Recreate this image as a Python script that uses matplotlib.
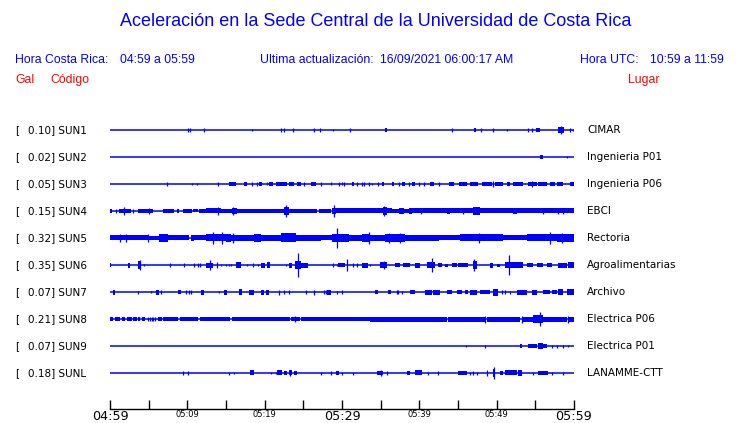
import matplotlib.pyplot as plt

# estaciones (de arriba hacia abajo)
codes = ["SUN1", "SUN2", "SUN3", "SUN4", "SUN5", "SUN6", "SUN7", "SUN8", "SUN9", "SUNL"]
peaks = [0.10, 0.02, 0.05, 0.15, 0.32, 0.35, 0.07, 0.21, 0.07, 0.18]
places = ["CIMAR", "Ingenieria P01", "Ingenieria P06", "EBCI", "Rectoria",
          "Agroalimentarias", "Archivo", "Electrica P06", "Electrica P01", "LANAMME-CTT"]

tick_minutes = [0, 5, 10, 15, 20, 25, 30, 35, 40, 45, 50, 55, 60]
tick_labels = ["04:59", "", "05:09", "", "05:19", "", "05:29", "", "05:39", "", "05:49", "", "05:59"]

# envolvente de cada traza: rafagas (min inicio, min fin, nivel) y picos (min, nivel)
sun1_bursts = [(35.6, 35.8, 2), (47.1, 47.3, 2), (55.08, 55.6, 2), (57.93, 58.7, 3)]
sun1_spikes = [(10.09, 2), (10.34, 2), (12.15, 2), (18.36, 1), (22.11, 2), (22.5, 2), (23.66, 2),
               (26.38, 2), (27.15, 2), (28.83, 1), (31.03, 2), (44.22, 2), (47.97, 2), (49.52, 2),
               (51.33, 1), (54.05, 2), (54.56, 2), (58.31, 4), (59.48, 2), (59.87, 1)]

sun2_bursts = [(55.6, 55.99, 2)]
sun2_spikes = [(59.09, 1)]

sun3_bursts = [(15.39, 16.29, 2), (17.33, 17.71, 2), (19.27, 19.65, 2), (20.56, 21.08, 2),
               (21.46, 22.89, 2), (23.14, 23.79, 2), (24.18, 24.7, 2), (25.99, 26.64, 2),
               (31.29, 31.55, 2), (35.17, 35.43, 2), (36.46, 36.72, 2), (37.76, 38.14, 2),
               (39.05, 39.44, 2), (41.38, 41.89, 2), (43.83, 44.48, 2), (45.13, 45.38, 2),
               (45.26, 46.16, 2), (46.55, 47.58, 2), (48.1, 49.39, 2), (49.78, 50.17, 2),
               (50.17, 50.82, 2), (51.33, 51.72, 2), (52.11, 53.4, 2), (54.05, 55.21, 2),
               (55.34, 56.5, 2), (56.89, 57.54, 2), (57.8, 58.57, 2), (59.48, 60.0, 2)]
sun3_spikes = [(7.37, 2), (10.6, 1), (11.25, 1), (13.96, 2), (18.36, 2), (19.01, 2), (20.3, 1.5),
               (25.08, 2), (27.28, 2), (28.58, 1.5), (29.61, 2), (30.0, 1.5), (30.26, 2), (31.94, 2),
               (32.58, 2), (32.84, 2), (33.49, 2), (33.88, 1), (34.65, 2), (37.37, 2), (38.66, 2),
               (39.95, 2), (40.6, 2), (42.54, 2), (49.52, 3), (54.6, 3)]

sun4_bursts = [(0.0, 0.26, 2), (1.16, 2.72, 2), (3.62, 5.56, 2), (6.85, 8.28, 2), (8.66, 8.92, 2),
               (9.44, 10.6, 2), (10.73, 11.38, 1.5), (11.51, 12.41, 2), (12.41, 14.35, 2.5),
               (14.35, 15.0, 2), (15.0, 15.77, 2), (15.77, 16.42, 3), (16.42, 22.5, 2),
               (22.5, 23.14, 4), (23.14, 24.83, 2), (24.83, 26.77, 2), (27.02, 28.58, 2),
               (28.7, 29.22, 3), (29.22, 34.26, 2.5), (34.26, 36.46, 2.5), (35.3, 35.82, 4),
               (36.46, 37.37, 2), (37.37, 38.01, 3), (38.01, 38.66, 2), (38.66, 39.05, 3),
               (39.05, 60.0, 2.5), (43.57, 43.96, 3), (46.94, 47.84, 4), (52.11, 52.63, 3)]
sun4_spikes = [(0.78, 2), (1.81, 4), (2.97, 2), (5.04, 3), (13.96, 4), (15.9, 4), (22.76, 6),
               (28.96, 6), (35.43, 5), (40.2, 3), (45.6, 3), (55.99, 3), (57.93, 3), (58.57, 3)]

sun5_bursts = [(0.0, 5.04, 2.5), (5.04, 6.34, 2), (6.34, 7.5, 4), (7.5, 10.21, 2.5), (10.47, 10.86, 3),
               (10.86, 12.41, 2.5), (12.41, 15.0, 3.5), (15.0, 15.65, 4), (15.65, 16.42, 3),
               (16.42, 18.62, 3), (18.62, 19.52, 4), (19.52, 22.11, 3), (22.11, 24.05, 4.5),
               (24.05, 25.47, 3), (25.47, 27.28, 3), (27.28, 28.7, 2.5), (28.7, 30.26, 4),
               (30.26, 30.9, 4), (30.9, 32.58, 3), (32.58, 33.62, 4), (33.62, 35.56, 3),
               (35.56, 38.14, 4), (38.14, 42.54, 3), (42.54, 45.26, 2.5), (45.26, 50.82, 3.5),
               (50.82, 53.92, 2.5), (53.92, 57.8, 3.5), (57.8, 60.0, 4)]
sun5_spikes = [(1.29, 4), (2.07, 4), (4.91, 4), (13.32, 6), (14.48, 6), (15.9, 5), (29.35, 10),
               (33.49, 6), (36.07, 5), (37.5, 5), (47.71, 5), (56.89, 6), (58.44, 5)]

sun6_bursts = [(0.0, 0.13, 2), (2.33, 2.59, 2.5), (3.62, 4.01, 4), (12.41, 13.32, 2.5),
               (16.29, 16.94, 3), (19.52, 20.04, 2.5), (20.3, 20.69, 3), (23.14, 23.53, 2.5),
               (23.92, 24.7, 4), (24.7, 25.6, 2.5), (29.48, 30.39, 2), (32.58, 33.36, 2.5),
               (34.91, 35.82, 3), (36.85, 37.5, 2), (37.89, 38.79, 2), (39.44, 40.09, 2.5),
               (40.99, 42.02, 3), (42.41, 42.93, 2), (43.32, 43.7, 1.5), (44.22, 44.87, 2),
               (45.0, 46.29, 2), (46.94, 47.45, 4), (49.14, 49.52, 2.5), (50.04, 50.43, 1.5),
               (51.07, 53.4, 3), (53.92, 54.69, 2), (55.21, 55.99, 2), (56.5, 57.15, 2),
               (57.93, 59.09, 2.5), (59.22, 60.0, 3)]
sun6_spikes = [(3.88, 5), (4.4, 1.5), (7.76, 2), (9.57, 2), (10.86, 2), (11.38, 2), (11.64, 2),
               (12.93, 5), (13.84, 3), (14.35, 1.5), (15.0, 1.5), (15.39, 1.5), (15.65, 1.5),
               (17.71, 1.5), (18.49, 2), (19.14, 1.5), (22.76, 1.5), (24.31, 12), (28.83, 2),
               (29.35, 1.5), (30.64, 6), (31.42, 2), (31.94, 2), (33.62, 1.5), (35.43, 4),
               (41.63, 7), (47.07, 6), (51.59, 10)]

sun7_bursts = [(0.39, 0.65, 2.5), (5.95, 6.34, 2.5), (8.79, 9.18, 2), (11.77, 12.15, 2.5),
               (14.74, 15.13, 2.5), (16.68, 17.07, 3), (17.97, 18.62, 2.5), (19.52, 19.91, 2.5),
               (20.17, 20.56, 2.5), (28.06, 28.58, 2.5), (34.26, 34.65, 2), (35.95, 36.33, 2),
               (38.79, 39.44, 2), (40.73, 41.63, 2.5), (41.76, 42.67, 2.5), (43.57, 44.22, 2),
               (44.87, 45.51, 2), (45.9, 46.29, 2), (46.55, 47.45, 2.5), (47.84, 49.14, 2),
               (49.52, 50.17, 3.5), (52.63, 53.92, 2.5), (54.56, 55.21, 2.5), (55.99, 56.9, 2),
               (57.15, 57.8, 2), (57.93, 58.57, 3), (59.09, 60.0, 3)]
sun7_spikes = [(3.62, 1.5), (5.3, 1), (6.59, 2), (9.83, 2), (10.21, 2), (10.47, 2), (14.09, 1),
               (21.85, 2.5), (22.5, 2), (23.14, 2), (25.34, 2), (26.38, 2.5), (27.67, 2),
               (27.93, 2), (29.35, 1.5), (30.0, 2), (37.11, 2), (37.24, 2), (37.76, 1.5),
               (50.69, 2), (51.07, 2), (51.72, 1.5)]

sun8_bursts = [(0.0, 0.39, 2), (0.65, 1.29, 2), (1.55, 1.94, 2), (2.2, 2.84, 2), (2.97, 3.49, 2),
               (3.62, 3.88, 2), (4.14, 4.53, 2), (6.21, 6.72, 2), (6.85, 8.79, 2), (9.05, 11.38, 2),
               (11.64, 15.52, 2), (15.77, 23.28, 2), (23.4, 24.57, 2), (24.7, 33.62, 2),
               (33.62, 43.57, 2.5), (43.7, 48.49, 2.5), (48.75, 53.02, 2.5), (53.4, 54.69, 2.5),
               (54.69, 55.99, 4), (55.99, 59.09, 2.5), (59.22, 60.0, 2.5)]
sun8_spikes = [(4.85, 2), (5.17, 2), (5.43, 2), (5.56, 2), (5.82, 2), (23.92, 3), (48.49, 3.5),
               (53.27, 3.5), (55.6, 7), (59.22, 3.5)]

sun9_bursts = [(53.02, 53.27, 2), (54.05, 55.21, 2), (55.34, 55.99, 3), (55.99, 56.5, 2)]
sun9_spikes = [(46.03, 1), (48.49, 1.5), (57.15, 1.5), (57.8, 1.5), (58.57, 1.5), (59.22, 1)]

sunl_bursts = [(18.1, 18.62, 2.5), (21.59, 22.24, 2.5), (22.5, 22.89, 2), (23.14, 23.53, 2.5),
               (23.79, 24.18, 2), (29.22, 29.61, 2), (34.52, 35.3, 2), (38.4, 38.79, 2),
               (39.44, 40.34, 2.5), (45.0, 46.16, 2), (49.52, 49.78, 4), (50.43, 50.82, 2),
               (51.07, 52.63, 2.5), (52.76, 53.27, 3), (55.34, 55.99, 2), (55.86, 56.64, 2)]
sunl_spikes = [(9.44, 2), (10.09, 2), (15.39, 1.5), (16.03, 1), (20.82, 1), (21.46, 1), (23.28, 3),
               (27.28, 1.5), (28.58, 2), (30.0, 1.5), (31.42, 1.5), (35.04, 2.5), (35.82, 2),
               (41.12, 1.5), (42.41, 2), (46.55, 1.5), (46.94, 2), (47.45, 1.5), (48.75, 2.5),
               (49.65, 6), (54.69, 1.5), (57.15, 1.5), (58.57, 1.5)]

bursts = [sun1_bursts, sun2_bursts, sun3_bursts, sun4_bursts, sun5_bursts,
          sun6_bursts, sun7_bursts, sun8_bursts, sun9_bursts, sunl_bursts]
spikes = [sun1_spikes, sun2_spikes, sun3_spikes, sun4_spikes, sun5_spikes,
          sun6_spikes, sun7_spikes, sun8_spikes, sun9_spikes, sunl_spikes]

W, H = 740, 423
AMP = 1 / 27  # un nivel = 1 px, separacion entre trazas = 27 px
BLUE = "#0000ff"

fig = plt.figure(figsize=(W / 100, H / 100), dpi=100)


def fx(x):
    return x / W


def fy(y):
    return 1 - y / H


# area de las trazas
ax = fig.add_axes([fx(110), fy(409), fx(574) - fx(110), (409 - 115) / H])
ax.set_xlim(0, 60)
ax.set_ylim(279 / 27, -15 / 27)

for i in range(len(codes)):
    ax.hlines(i, 0, 60, color=BLUE, lw=1.1)
    for t0, t1, a in bursts[i]:
        ax.bar(t0, 2 * a * AMP, width=t1 - t0, bottom=i - a * AMP, align="edge",
               color=BLUE, linewidth=0)
    for t, a in spikes[i]:
        ax.vlines(t, i - a * AMP, i + a * AMP, color=BLUE, lw=0.9)

for s in ["top", "left", "right"]:
    ax.spines[s].set_visible(False)
ax.spines["bottom"].set_linewidth(1.0)
ax.set_yticks([])
ax.set_xticks(tick_minutes)
ax.set_xticklabels(tick_labels)
ax.tick_params(axis="x", direction="in", length=6.5, width=1.0, pad=1)
for lab in ax.get_xticklabels():
    if lab.get_text() in ("04:59", "05:29", "05:59"):
        lab.set_fontsize(9.2)
    else:
        lab.set_fontsize(6)

# etiquetas de cada estacion
for i in range(len(codes)):
    y = 130 + 27 * i
    fig.text(fx(15), fy(y), "[", fontsize=7.5, va="center", ha="left")
    fig.text(fx(28), fy(y), f"{peaks[i]:.2f}] {codes[i]}", fontsize=7.5, va="center", ha="left")
    fig.text(fx(587), fy(y), places[i], fontsize=7.5, va="center", ha="left")

# encabezado
font = "Liberation Sans"
fig.text(fx(376), fy(22), "Aceleración en la Sede Central de la Universidad de Costa Rica",
         fontsize=13, color=BLUE, ha="center", va="center", family=font)
fig.text(fx(15), fy(60), "Hora Costa Rica:", fontsize=8.8, color=BLUE, va="center", family=font)
fig.text(fx(120), fy(60), "04:59 a 05:59", fontsize=8.8, color=BLUE, va="center", family=font)
fig.text(fx(260), fy(60), "Ultima actualización:", fontsize=8.8, color=BLUE, va="center", family=font)
fig.text(fx(513), fy(60), "16/09/2021 06:00:17 AM", fontsize=8.8, color=BLUE, va="center",
         ha="right", family=font)
fig.text(fx(580), fy(60), "Hora UTC:", fontsize=8.8, color=BLUE, va="center", family=font)
fig.text(fx(724), fy(60), "10:59 a 11:59", fontsize=8.8, color=BLUE, va="center", ha="right",
         family=font)
fig.text(fx(15), fy(80), "Gal", fontsize=8.8, color="red", va="center", family=font)
fig.text(fx(50), fy(80), "Código", fontsize=8.8, color="red", va="center", family=font)
fig.text(fx(628), fy(80), "Lugar", fontsize=8.8, color="red", va="center", family=font)

fig.savefig("out.png", dpi=100)
